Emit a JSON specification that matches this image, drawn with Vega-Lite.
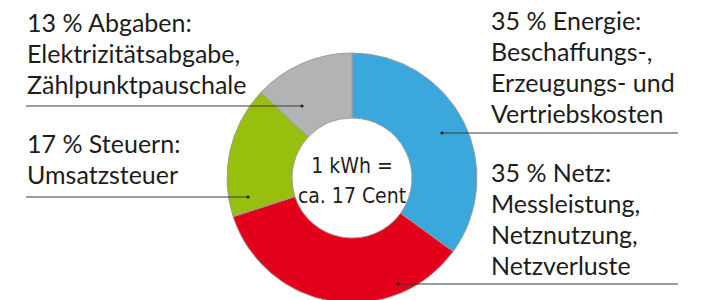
{
  "$schema": "https://vega.github.io/schema/vega-lite/v6.json",
  "width": 704,
  "height": 356,
  "autosize": {"type": "none"},
  "padding": 0,
  "background": "white",
  "config": {"view": {"stroke": null}},
  "datasets": {
    "parts": [
      {"part": "Energie", "share": 35, "order": 1},
      {"part": "Netz", "share": 35, "order": 2},
      {"part": "Steuern", "share": 17, "order": 3},
      {"part": "Abgaben", "share": 13, "order": 4}
    ],
    "leaders": [
      {"part": "Abgaben", "x0": -2.608, "x1": -0.4, "dot": -0.4, "y": 0.576},
      {"part": "Steuern", "x0": -2.608, "x1": -0.832, "dot": -0.832, "y": -0.152},
      {"part": "Energie", "x0": 0.72, "x1": 2.608, "dot": 0.72, "y": 0.36},
      {"part": "Netz", "x0": 0.368, "x1": 2.608, "dot": 0.368, "y": -0.848}
    ],
    "labels": [
      {"part": "Abgaben", "x": -2.6, "y": 1.168, "label": "13 % Abgaben:\nElektrizitätsabgabe,\nZählpunktpauschale"},
      {"part": "Steuern", "x": -2.6, "y": 0.2, "label": "17 % Steuern:\nUmsatzsteuer"},
      {"part": "Energie", "x": 1.112, "y": 1.184, "label": "35 % Energie:\nBeschaffungs-,\nErzeugungs- und\nVertriebskosten"},
      {"part": "Netz", "x": 1.112, "y": -0.032, "label": "35 % Netz:\nMessleistung,\nNetznutzung,\nNetzverluste"}
    ],
    "center": [
      {"x": 0, "y": 0.04, "label": "1 kWh ="},
      {"x": 0, "y": -0.2, "label": "ca. 17 Cent"}
    ]
  },
  "layer": [
    {
      "data": {"name": "parts"},
      "mark": {"type": "arc", "outerRadius": 125, "innerRadius": 60, "stroke": "#9d9d9c", "strokeWidth": 1},
      "encoding": {
        "theta": {"field": "share", "type": "quantitative", "stack": true},
        "order": {"field": "order", "type": "quantitative"},
        "color": {
          "field": "part", "type": "nominal", "legend": null,
          "scale": {"domain": ["Energie", "Netz", "Steuern", "Abgaben"], "range": ["#3aa8dc", "#e2001a", "#97bf0d", "#b2b3b5"]}
        }
      }
    },
    {
      "data": {"name": "leaders"},
      "mark": {"type": "rule", "color": "#3c3c3b", "strokeWidth": 1.2},
      "encoding": {
        "x": {"field": "x0", "type": "quantitative", "axis": null, "scale": {"domain": [-2.816, 2.816], "nice": false, "zero": false}},
        "x2": {"field": "x1"},
        "y": {"field": "y", "type": "quantitative", "axis": null, "scale": {"domain": [-1.424, 1.424], "nice": false, "zero": false}}
      }
    },
    {
      "data": {"name": "leaders"},
      "mark": {"type": "point", "filled": true, "color": "#1d1d1b", "size": 10, "opacity": 1},
      "encoding": {
        "x": {"field": "dot", "type": "quantitative", "axis": null},
        "y": {"field": "y", "type": "quantitative", "axis": null}
      }
    },
    {
      "data": {"name": "labels"},
      "mark": {"type": "text", "align": "left", "baseline": "alphabetic", "font": "Lato", "fontSize": 25, "lineBreak": "\n", "lineHeight": 31, "color": "#1d1d1b"},
      "encoding": {
        "x": {"field": "x", "type": "quantitative", "axis": null},
        "y": {"field": "y", "type": "quantitative", "axis": null},
        "text": {"field": "label", "type": "nominal"}
      }
    },
    {
      "data": {"name": "center"},
      "mark": {"type": "text", "align": "center", "baseline": "alphabetic", "font": "DejaVu Sans Condensed", "fontSize": 21, "color": "#1d1d1b"},
      "encoding": {
        "x": {"field": "x", "type": "quantitative", "axis": null},
        "y": {"field": "y", "type": "quantitative", "axis": null},
        "text": {"field": "label", "type": "nominal"}
      }
    }
  ]
}
